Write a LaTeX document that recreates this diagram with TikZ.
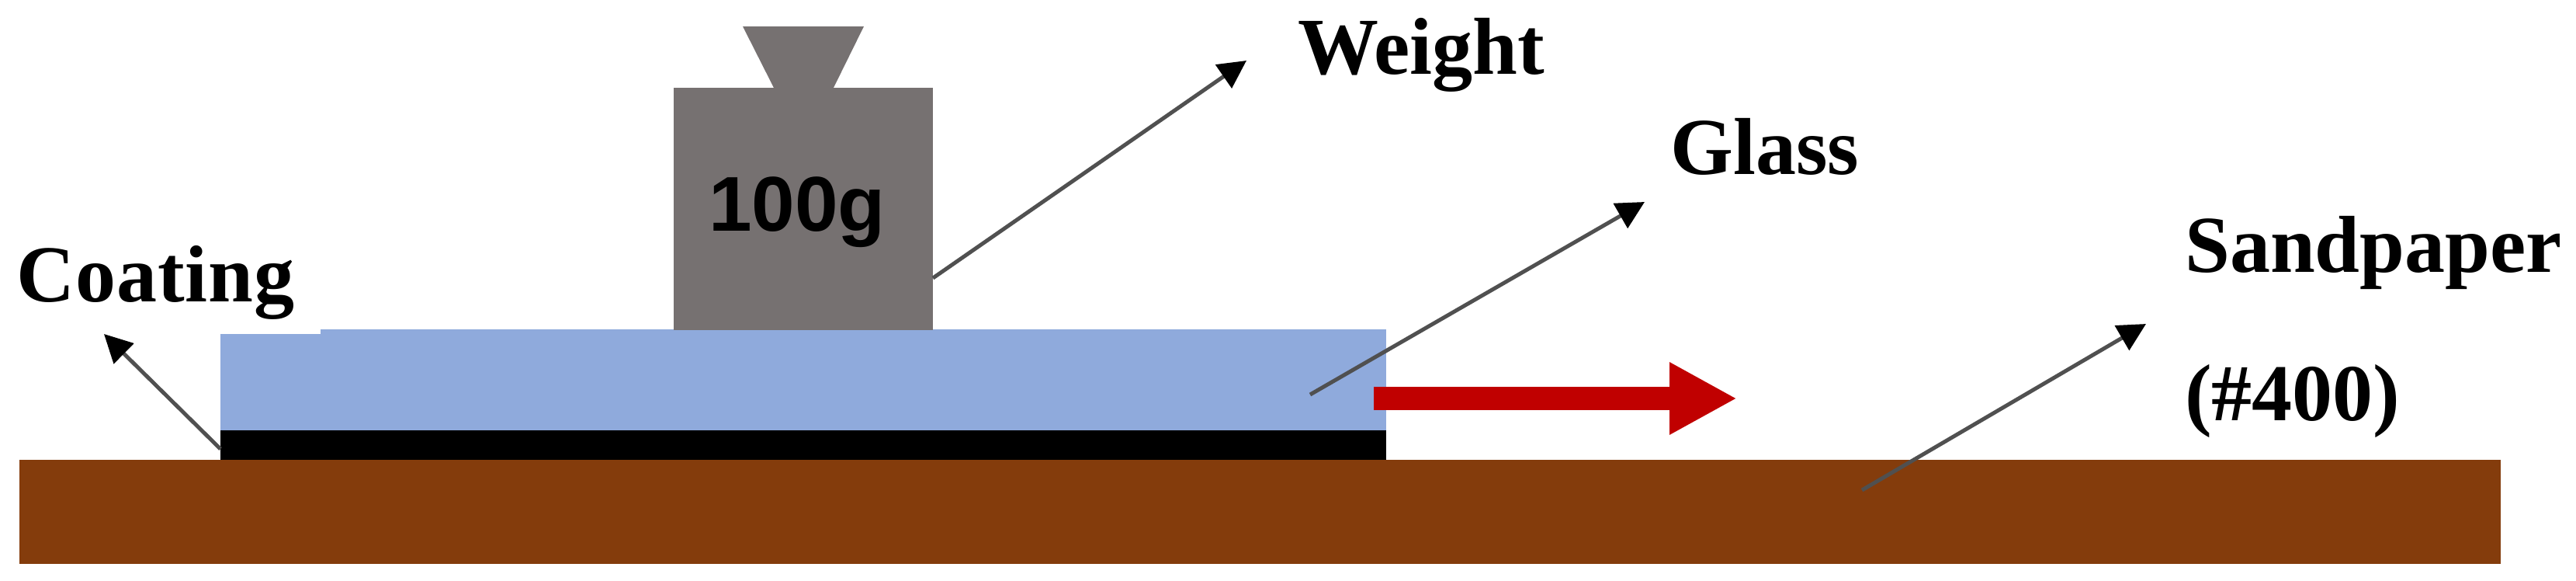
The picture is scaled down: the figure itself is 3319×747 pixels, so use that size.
\documentclass[tikz,border=0pt]{standalone}
\usepackage{fontspec}
\setmainfont{Liberation Serif}
\newfontfamily\armo{Liberation Sans}
\usetikzlibrary{arrows.meta}
\definecolor{wgray}{HTML}{767171}
\definecolor{gblue}{HTML}{8FAADC}
\definecolor{sbrown}{HTML}{843C0C}
\definecolor{rred}{HTML}{C00000}
\definecolor{lineg}{HTML}{505050}
\tikzset{
  x=1pt,y=-1pt,
  lab/.style={font=\fontsize{104}{120}\selectfont\bfseries,text=black,inner sep=0pt,anchor=base west},
  lead/.style={draw=lineg,line width=5pt,-{Triangle[length=36pt,width=36pt,color=black]}},
  block/.style={inner sep=0pt,outer sep=0pt,draw=none,anchor=north west}
}
\begin{document}
\begin{tikzpicture}
\useasboundingbox (0,0) rectangle (3319,747);
\node[block,fill=sbrown,minimum width=3197pt,minimum height=134pt] (sand) at (25,592) {};
\node[block,fill=black,minimum width=1502pt,minimum height=38pt] (coat) at (284,554) {};
\node[block,fill=gblue,minimum width=1502pt,minimum height=130pt] (glass) at (284,424) {};
\fill[white] (0,424) rectangle (413,430);
\node[block,fill=wgray,minimum width=334pt,minimum height=312pt] (body) at (868,113) {};
\fill[wgray] (957,34) -- (1113,34) -- (1073,115) -- (998,115) -- cycle;
\node[inner sep=0pt,anchor=base,font=\fontsize{100}{120}\selectfont\armo\bfseries] (w) at (1027,297) {100g};
\node[lab] (tw) at (1672,95) {Weight};
\node[lab] (tg) at (2152,224) {Glass};
\node[lab,font=\fontsize{104}{120}\selectfont\bfseries\addfontfeature{LetterSpace=1}] (tc) at (21,388) {Coating};
\node[lab] (ts) at (2815,350) {Sandpaper};
\node[lab] (tn) at (2815,541) {(\#400)};
\coordinate (a1) at (1202,358); \coordinate (a2) at (1606,78);
\coordinate (b1) at (1688,508); \coordinate (b2) at (2119,260);
\coordinate (c1) at (2399,631); \coordinate (c2) at (2765,417);
\coordinate (d1) at (284,578);  \coordinate (d2) at (134,430);
\coordinate (r1) at (1770,513); \coordinate (r2) at (2238,513);
\draw[lead] (a1) -- (a2);
\draw[lead] (b1) -- (b2);
\draw[lead] (c1) -- (c2);
\draw[lead] (d1) -- (d2);
\draw[rred,line width=30pt,-{Triangle[length=87pt,width=87pt]}] (r1) -- (r2);
\end{tikzpicture}
\end{document}
